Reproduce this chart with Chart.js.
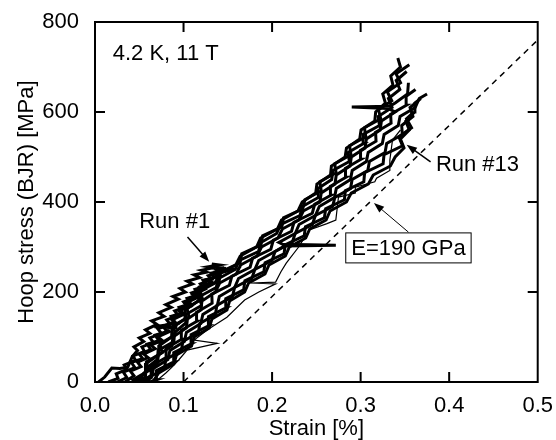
<!DOCTYPE html>
<html>
<head>
<meta charset="utf-8">
<script src="https://cdn.jsdelivr.net/npm/chart.js@4/dist/chart.umd.min.js"></script>
<style>
  body { margin: 0; background: #fff; }
  #wrap { width: 556px; height: 440px; }
</style>
</head>
<body>
<div id="wrap"><canvas id="chart1" width="556" height="440"></canvas></div>
<script>
// axis ticks
const xTicks = [0.0, 0.1, 0.2, 0.3, 0.4, 0.5];
const yTicks = [0, 200, 400, 600, 800];

// Run #1 and its neighbours (upper-left band)
const run1Strain = [0.004,0.011,0.019,0.028,0.037,0.042,0.048,0.044,0.055,0.050,0.062,0.057,0.070,0.064,0.078,0.072,0.086,0.080,0.094,0.088,0.102,0.096,0.110,0.104,0.118,0.112,0.126,0.120,0.134,0.128,0.140,0.132,0.138];
const run1Stress = [0,11,31,30,33,56,70,78,90,98,108,116,128,136,146,154,166,172,184,190,200,208,218,224,232,238,244,248,254,256,260,262,258];

const runNStrain = [0.015,0.026,0.024,0.036,0.033,0.046,0.043,0.056,0.053,0.066,0.062,0.075,0.071,0.085,0.081,0.094,0.090,0.104,0.100,0.113,0.109,0.123,0.119,0.132,0.128,0.141,0.137,0.146];
const runNStress = [0,8,18,28,38,48,58,68,78,88,98,108,118,128,138,148,158,168,178,188,198,208,218,228,236,244,250,254];

const runKStrain = [0.025,0.036,0.032,0.045,0.041,0.054,0.050,0.063,0.059,0.072,0.068,0.081,0.077,0.090,0.086,0.099,0.095,0.108,0.104,0.117,0.113,0.126,0.122,0.135,0.131,0.144,0.140,0.148];
const runKStress = [0,10,22,32,44,52,62,72,84,92,104,112,124,134,146,154,166,174,186,194,206,214,226,232,242,248,254,252];

const run2Strain = [0.034,0.044,0.040,0.052,0.048,0.060,0.055,0.068,0.063,0.076,0.071,0.084,0.079,0.093,0.067,0.092,0.087,0.100,0.095,0.108,0.103,0.116,0.111,0.124,0.119,0.132,0.127,0.140,0.135,0.148,0.143,0.155,0.150];
const run2Stress = [0,14,24,34,44,54,62,74,82,92,100,112,120,121,123,130,138,150,158,168,176,188,194,206,212,222,228,236,240,246,248,250,246];

// main band
const runCStrain = [0.045,0.0565,0.057,0.0715,0.072,0.0865,0.087,0.1015,0.102,0.1165,0.117,0.1357,0.1404,0.159,0.164,0.1825,0.187,0.206,0.2106,0.2293,0.234,0.2493,0.2506,0.266,0.267,0.2825,0.284,0.299,0.3005,0.316,0.317,0.328,0.325,0.3365,0.334,0.345,0.342];
const runCStress = [0,20,40,60,80,100,120,140,160,180,200,220,240,260,280,300,320,340,360,380,400,420,440,460,480,500,520,540,560,580,600,620,640,660,680,700,720];

const runLStrain = [0.048,0.0429,0.0605,0.0581,0.0757,0.0733,0.0909,0.0885,0.1061,0.1037,0.1213,0.1185,0.1403,0.1421,0.1639,0.1657,0.1875,0.1893,0.2111,0.2129,0.2347,0.2371,0.2555,0.2539,0.2723,0.2707,0.2891,0.2875,0.3059,0.3043,0.3227,0.3202,0.3352,0.3301,0.3451,0.34,0.355];
const runLStress = [0,5,25,45,65,85,105,125,145,165,185,205,225,245,265,285,305,325,345,365,385,405,425,445,465,485,505,525,545,565,585,605,625,645,665,685,705];

const runHStrain = [0.048,0.0569,0.0577,0.0705,0.0713,0.0891,0.0899,0.1017,0.1025,0.1203,0.1181,0.1369,0.1396,0.1583,0.163,0.1847,0.1874,0.2051,0.2098,0.2315,0.2342,0.2523,0.2518,0.2673,0.2688,0.2873,0.2858,0.3033,0.3028,0.3213,0.3198,0.3355,0.3314,0.3443,0.3402,0.352];
const runHStress = [0,10,30,50,70,90,110,130,150,170,190,210,230,250,270,290,310,330,350,370,390,410,430,450,470,490,510,530,550,570,590,610,630,650,670,690];

const runDStrain = [0.05,0.0552,0.0704,0.0716,0.0868,0.088,0.1032,0.1044,0.1196,0.1208,0.136,0.1408,0.1596,0.1644,0.1832,0.188,0.2068,0.2116,0.2304,0.2352,0.254,0.2555,0.271,0.2725,0.288,0.2895,0.305,0.3065,0.322,0.3235,0.339,0.331,0.290,0.333,0.339,0.353,0.354];
const runDStress = [0,20,40,60,80,100,120,140,160,180,200,220,240,260,280,300,320,340,360,380,400,420,440,460,480,500,520,540,560,580,600,608,611,613,620,640,665];

const runIStrain = [0.052,0.0635,0.0631,0.0807,0.0803,0.0979,0.0975,0.1151,0.1147,0.1323,0.1319,0.1518,0.1545,0.1752,0.1779,0.1986,0.2013,0.222,0.2247,0.2454,0.2481,0.2664,0.2659,0.2834,0.2829,0.3004,0.2999,0.3174,0.3169,0.3344,0.3339,0.3516,0.3514,0.362];
const runIStress = [0,15,35,55,75,95,115,135,155,175,195,215,235,255,275,295,315,335,355,375,395,415,435,455,475,495,515,535,555,575,595,615,635,650];

const runEStrain = [0.055,0.0637,0.066,0.0823,0.0846,0.1009,0.1032,0.1195,0.1218,0.1381,0.1404,0.1577,0.1621,0.1805,0.1849,0.2033,0.214,0.272,0.212,0.2077,0.2261,0.2305,0.2489,0.2533,0.2705,0.2725,0.2885,0.2905,0.3065,0.3085,0.3245,0.3265,0.3425,0.3445,0.3617,0.3662,0.375];
const runEStress = [0,10,30,50,70,90,110,130,150,170,190,210,230,250,270,290,302,304,306,310,330,350,370,390,410,430,450,470,490,510,530,550,570,590,610,630,640];

const runJStrain = [0.06,0.0608,0.0784,0.08,0.0976,0.0992,0.1168,0.1184,0.136,0.1376,0.1552,0.1577,0.1771,0.1805,0.1999,0.2033,0.2227,0.2261,0.2455,0.2489,0.2683,0.2709,0.2886,0.2904,0.3081,0.3099,0.3276,0.3294,0.3471,0.3464,0.3591,0.3558,0.362];
const runJStress = [0,10,30,50,70,90,110,130,150,170,190,210,230,250,270,290,310,330,350,370,390,410,430,450,470,490,510,530,550,570,590,610,620];

const runMStrain = [0.062,0.0695,0.0693,0.0891,0.0889,0.1087,0.1085,0.1283,0.1281,0.1479,0.1477,0.1679,0.1693,0.1907,0.1921,0.2135,0.2149,0.2363,0.2377,0.2591,0.2605,0.2817,0.2827,0.3036,0.3045,0.3254,0.3264,0.3473,0.3432,0.3575,0.3518,0.36];
const runMStress = [0,5,25,45,65,85,105,125,145,165,185,205,225,245,265,285,305,325,345,365,385,405,425,445,465,485,505,525,545,565,585,600];

// Run #13 (lower edge of band)
const run13Strain = [0.065,0.072,0.089,0.092,0.109,0.112,0.129,0.132,0.149,0.152,0.169,0.1735,0.192,0.1965,0.215,0.2195,0.238,0.2425,0.261,0.2655,0.284,0.2894,0.3088,0.3142,0.3336,0.339,0.349,0.345,0.355,0.351,0.361,0.3613,0.368];
const run13Stress = [0,20,40,60,80,100,120,140,160,180,200,220,240,260,280,300,320,340,360,380,400,420,440,460,480,500,520,540,560,580,600,620,630];

// thin stepped run
const runGStrain = [0.068,0.080,0.087,0.095,0.104,0.138,0.112,0.127,0.149,0.169,0.185,0.204,0.176,0.204,0.210,0.216,0.230,0.242,0.262,0.272,0.275,0.294,0.294,0.316,0.318,0.333,0.333,0.336,0.345];
const runGStress = [0,20,33,50,71,86,93,116,144,182,200,218,220,222,245,264,300,338,352,360,411,420,433,445,453,470,493,538,560];

// E = 190 GPa reference line
const modulusStrain = [0.1, 0.5];
const modulusStress = [0, 760];

function pts(xs, ys) {
    return xs.map((x, i) => ({ x: x, y: ys[i] }));
}

function noisy(xs, ys) {
    return { data: pts(xs, ys), borderColor: '#000', borderWidth: 3, pointRadius: 0, showLine: true };
}

const FONT = '"Liberation Sans", Arial, Helvetica, sans-serif';
const FSIZE = 22;

// frame, inward ticks and the text notes
const decor = {
    id: 'decor',
    afterDraw(chart) {
        const ctx = chart.ctx;
        const a = chart.chartArea;
        const xs = chart.scales.x, ys = chart.scales.y;
        ctx.save();
        ctx.strokeStyle = '#000';
        ctx.lineWidth = 2;
        ctx.strokeRect(a.left, a.top, a.right - a.left, a.bottom - a.top);
        ctx.beginPath();
        xTicks.slice(1, -1).forEach(v => {
            const px = xs.getPixelForValue(v);
            ctx.moveTo(px, a.bottom); ctx.lineTo(px, a.bottom - 10);
            ctx.moveTo(px, a.top); ctx.lineTo(px, a.top + 10);
        });
        yTicks.slice(1, -1).forEach(v => {
            const py = ys.getPixelForValue(v);
            ctx.moveTo(a.left, py); ctx.lineTo(a.left + 10, py);
            ctx.moveTo(a.right, py); ctx.lineTo(a.right - 10, py);
        });
        ctx.stroke();

        const P = (x, y) => [xs.getPixelForValue(x), ys.getPixelForValue(y)];
        ctx.fillStyle = '#000';
        ctx.font = FSIZE + 'px ' + FONT;
        ctx.textBaseline = 'middle';

        ctx.textAlign = 'left';
        let p = P(0.02, 729);
        ctx.fillText('4.2 K, 11 T', p[0], p[1]);

        ctx.textAlign = 'center';
        p = P(0.09, 356);
        ctx.fillText('Run #1', p[0], p[1]);

        ctx.textAlign = 'left';
        p = P(0.385, 482);
        ctx.fillText('Run #13', p[0], p[1]);

        ctx.textAlign = 'center';
        p = P(0.354, 298);
        ctx.fillText('E=190 GPa', p[0], p[1] + 1);
        const w = ctx.measureText('E=190 GPa').width + 11;
        ctx.lineWidth = 1;
        ctx.strokeRect(p[0] - w / 2, p[1] - 15, w, 30);

        arrow(ctx, P(0.1045, 322), P(0.129, 267), 1.5);
        arrow(ctx, P(0.379, 489), P(0.352, 527), 1.5);
        arrow(ctx, P(0.354, 333), P(0.315, 398), 1);
        ctx.restore();
    }
};

function arrow(ctx, from, to, lw) {
    const ang = Math.atan2(to[1] - from[1], to[0] - from[0]);
    const len = 11, half = 0.35;
    ctx.lineWidth = lw;
    ctx.beginPath();
    ctx.moveTo(from[0], from[1]);
    ctx.lineTo(to[0] - Math.cos(ang) * len * 0.8, to[1] - Math.sin(ang) * len * 0.8);
    ctx.stroke();
    ctx.beginPath();
    ctx.moveTo(to[0], to[1]);
    ctx.lineTo(to[0] - len * Math.cos(ang - half), to[1] - len * Math.sin(ang - half));
    ctx.lineTo(to[0] - len * Math.cos(ang + half), to[1] - len * Math.sin(ang + half));
    ctx.closePath();
    ctx.fill();
}

const ctx1 = document.getElementById('chart1').getContext('2d');
const chart1 = new Chart(ctx1, {
    type: 'scatter',
    data: {
        datasets: [
            noisy(run1Strain, run1Stress),
            noisy(runNStrain, runNStress),
            noisy(runKStrain, runKStress),
            noisy(run2Strain, run2Stress),
            noisy(runCStrain, runCStress),
            noisy(runLStrain, runLStress),
            noisy(runHStrain, runHStress),
            noisy(runDStrain, runDStress),
            noisy(runIStrain, runIStress),
            noisy(runEStrain, runEStress),
            noisy(runJStrain, runJStress),
            noisy(runMStrain, runMStress),
            noisy(run13Strain, run13Stress),
            { data: pts(runGStrain, runGStress), borderColor: '#000', borderWidth: 1.2, pointRadius: 0, showLine: true },
            { data: pts(modulusStrain, modulusStress), borderColor: '#000', borderWidth: 1.5, borderDash: [6, 5], pointRadius: 0, showLine: true }
        ]
    },
    options: {
        responsive: false,
        animation: false,
        layout: { padding: { top: 22, right: 16, left: 0, bottom: 0 } },
        plugins: { legend: { display: false }, tooltip: { enabled: false } },
        scales: {
            x: {
                type: 'linear', min: 0, max: 0.5,
                afterFit(s) { s.height = 58; },
                afterBuildTicks(s) { s.ticks = xTicks.map(v => ({ value: v })); },
                grid: { display: false },
                border: { display: false },
                ticks: { color: '#000', padding: 3, font: { family: FONT, size: FSIZE }, callback: v => v.toFixed(1) },
                title: { display: true, text: 'Strain [%]', color: '#000', font: { family: FONT, size: FSIZE }, padding: { top: 0, bottom: -2 } }
            },
            y: {
                type: 'linear', min: 0, max: 800,
                afterFit(s) { s.width = 95; },
                afterBuildTicks(s) { s.ticks = yTicks.map(v => ({ value: v })); },
                grid: { display: false },
                border: { display: false },
                ticks: { color: '#000', padding: 8, font: { family: FONT, size: FSIZE } },
                title: { display: true, text: 'Hoop stress (BJR) [MPa]', color: '#000', font: { family: FONT, size: FSIZE }, padding: { top: 14, bottom: 0 } }
            }
        }
    },
    plugins: [decor]
});
</script>
</body>
</html>
